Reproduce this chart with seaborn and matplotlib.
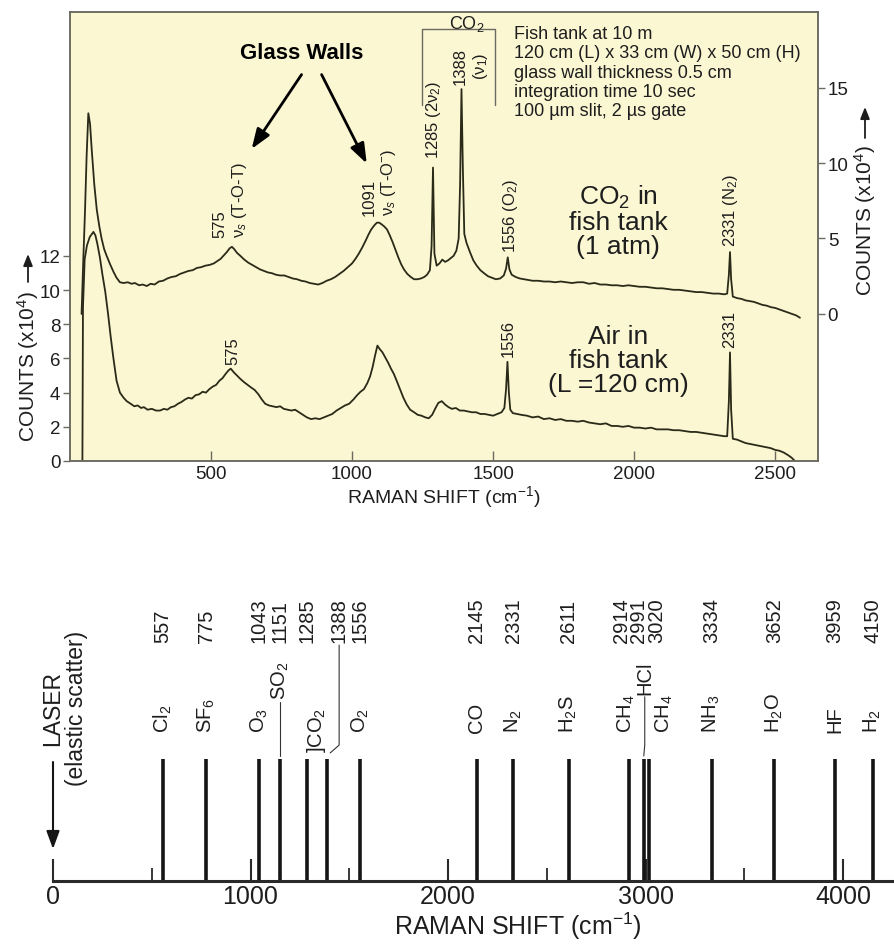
import itertools
import numpy as np
import pandas as pd
import matplotlib
matplotlib.use("Agg")
import matplotlib.pyplot as plt
import seaborn as sns

# ---------------- data ----------------
# Air in fish tank (left axis, counts x1e4)
air_shift = [44, 46, 52, 60, 70, 83, 90, 97, 106, 115, 125, 135, 144, 154, 165, 177, 190, 201, 215, 228,
             240, 252, 262, 275, 290, 305, 319, 333, 345, 358, 370, 383, 395, 408, 420, 432, 445, 458, 470, 482,
             494, 506, 518, 530, 541, 552, 562, 570, 580, 592, 604, 618, 630, 642, 655, 668, 680, 692, 705, 718,
             732, 745, 758, 772, 785, 798, 812, 826, 840, 855, 870, 885, 900, 915, 930, 945, 960, 975, 990, 1005,
             1018, 1030, 1042, 1054, 1064, 1073, 1082, 1090, 1098, 1108, 1118, 1128, 1138, 1148, 1158, 1170, 1182,
             1194, 1206, 1220, 1233, 1246, 1260, 1272, 1284, 1296, 1306, 1318, 1330, 1342, 1354, 1368, 1382, 1396,
             1410, 1425, 1440, 1455, 1470, 1485, 1500, 1515, 1530, 1540, 1546, 1551, 1556, 1561, 1570, 1585, 1600,
             1620, 1640, 1660, 1680, 1700, 1720, 1740, 1760, 1780, 1800, 1820, 1840, 1860, 1880, 1900, 1920, 1940,
             1960, 1980, 2000, 2020, 2040, 2060, 2080, 2100, 2120, 2140, 2160, 2180, 2200, 2220, 2240, 2260, 2280,
             2300, 2320, 2330, 2336, 2340, 2344, 2350, 2365, 2380, 2395, 2410, 2425, 2440, 2455, 2470, 2485, 2500,
             2515, 2530, 2545, 2558, 2570]
air_counts = [0.0, 9.0, 11.8, 12.6, 13.1, 13.4, 13.2, 12.7, 11.9, 10.9, 9.9, 8.6, 7.3, 6.0, 4.7, 4.0, 3.7, 3.5,
              3.35, 3.2, 3.25, 3.1, 3.15, 3.0, 3.05, 2.95, 2.95, 3.05, 3.0, 3.15, 3.2, 3.35, 3.45, 3.6, 3.7, 3.65,
              3.85, 3.9, 4.05, 4.0, 4.2, 4.35, 4.45, 4.7, 4.85, 5.1, 5.3, 5.4, 5.2, 5.0, 4.8, 4.6, 4.45, 4.3, 4.15,
              3.9, 3.6, 3.35, 3.25, 3.2, 3.15, 3.2, 3.05, 3.0, 2.95, 3.0, 2.85, 2.7, 2.55, 2.45, 2.5, 2.45, 2.55,
              2.65, 2.75, 2.95, 3.1, 3.25, 3.35, 3.6, 3.85, 4.05, 4.2, 4.55, 4.95, 5.5, 6.2, 6.75, 6.55, 6.35, 6.05,
              5.75, 5.4, 5.1, 4.7, 4.2, 3.7, 3.3, 3.0, 2.85, 2.7, 2.65, 2.55, 2.5, 2.7, 3.1, 3.4, 3.5, 3.3, 3.15,
              3.05, 3.1, 2.95, 2.95, 2.9, 2.85, 2.85, 2.75, 2.75, 2.7, 2.65, 2.75, 2.85, 3.1, 4.2, 5.8, 4.0, 3.0,
              2.8, 2.75, 2.7, 2.65, 2.55, 2.6, 2.45, 2.5, 2.4, 2.45, 2.35, 2.35, 2.3, 2.35, 2.25, 2.2, 2.15, 2.2,
              2.05, 2.05, 2.0, 2.05, 1.95, 1.95, 1.9, 1.95, 1.85, 1.85, 1.85, 1.8, 1.8, 1.75, 1.7, 1.7, 1.65, 1.6,
              1.55, 1.5, 1.45, 1.45, 3.5, 6.35, 3.0, 1.3, 1.25, 1.15, 1.05, 1.0, 0.95, 0.9, 0.85, 0.8, 0.75, 0.65,
              0.6, 0.5, 0.35, 0.2, 0.0]

# CO2 in fish tank (right axis, counts x1e4)
co2_shift = [41, 47, 53, 59, 65, 71, 77, 86, 95, 104, 112, 121, 130, 142, 154, 165, 177, 190, 205, 218, 230,
             245, 258, 272, 286, 300, 315, 330, 345, 360, 375, 390, 405, 420, 435, 450, 465, 480, 495, 510, 522,
             534, 546, 556, 566, 574, 582, 592, 604, 618, 632, 646, 660, 674, 688, 702, 716, 730, 745, 760, 775,
             790, 805, 820, 835, 850, 865, 880, 895, 910, 925, 940, 955, 970, 985, 1000, 1012, 1024, 1036, 1048,
             1058, 1068, 1078, 1088, 1096, 1104, 1114, 1124, 1134, 1144, 1154, 1164, 1174, 1184, 1196, 1208, 1220,
             1232, 1244, 1256, 1266, 1276, 1282, 1287, 1292, 1300, 1310, 1320, 1330, 1340, 1350, 1360, 1370, 1378,
             1383, 1388, 1393, 1398, 1406, 1418, 1430, 1442, 1455, 1468, 1482, 1496, 1510, 1525, 1538, 1546, 1552,
             1558, 1566, 1580, 1595, 1610, 1625, 1640, 1660, 1680, 1700, 1720, 1740, 1760, 1780, 1800, 1820, 1840,
             1860, 1880, 1900, 1920, 1940, 1960, 1980, 2000, 2020, 2040, 2060, 2080, 2100, 2120, 2140, 2160, 2180,
             2200, 2220, 2240, 2260, 2280, 2300, 2320, 2330, 2336, 2340, 2344, 2350, 2365, 2380, 2395, 2410, 2425,
             2440, 2455, 2470, 2485, 2500, 2515, 2530, 2545, 2560, 2575, 2588]
co2_counts = [0.0, 3.5, 6.7, 10.5, 13.3, 12.6, 10.9, 8.6, 6.9, 5.8, 5.0, 4.3, 3.85, 3.3, 2.8, 2.4, 2.1, 2.05,
              2.1, 2.0, 2.05, 1.9, 1.95, 1.85, 2.0, 1.95, 2.15, 2.2, 2.35, 2.45, 2.5, 2.65, 2.75, 2.85, 2.9, 3.05,
              3.1, 3.2, 3.25, 3.35, 3.5, 3.65, 3.9, 4.1, 4.35, 4.45, 4.3, 4.05, 3.85, 3.6, 3.4, 3.25, 3.1, 2.95,
              2.85, 2.75, 2.7, 2.6, 2.55, 2.55, 2.45, 2.35, 2.3, 2.2, 2.15, 2.05, 2.0, 1.95, 2.05, 2.2, 2.3, 2.45,
              2.65, 2.85, 3.1, 3.35, 3.65, 4.0, 4.4, 4.85, 5.25, 5.6, 5.85, 6.05, 6.05, 5.95, 5.8, 5.6, 5.2, 4.75,
              4.25, 3.75, 3.3, 2.95, 2.65, 2.45, 2.3, 2.3, 2.35, 2.45, 2.6, 2.9, 4.5, 9.7, 4.0, 3.2, 3.35, 3.6,
              3.45, 3.55, 3.7, 3.85, 4.2, 5.0, 8.5, 14.9, 9.5, 5.3, 4.7, 4.1, 3.55, 3.2, 2.9, 2.7, 2.5, 2.4, 2.3,
              2.35, 2.55, 3.0, 3.75, 2.95, 2.6, 2.45, 2.35, 2.3, 2.25, 2.2, 2.2, 2.15, 2.15, 2.1, 2.15, 2.1, 2.05,
              2.1, 2.1, 2.0, 2.05, 1.95, 1.95, 1.9, 1.9, 1.85, 1.9, 1.85, 1.8, 1.8, 1.75, 1.7, 1.7, 1.65, 1.6, 1.6,
              1.55, 1.5, 1.45, 1.45, 1.4, 1.35, 1.35, 1.3, 1.35, 2.6, 4.1, 2.3, 1.15, 1.05, 1.0, 0.9, 0.85, 0.8,
              0.7, 0.6, 0.55, 0.45, 0.4, 0.3, 0.2, 0.1, 0.0, -0.1, -0.25]

left_ticks = [0, 2, 4, 6, 8, 10, 12]
right_ticks = [0, 5, 10, 15]
top_xticks = [500, 1000, 1500, 2000, 2500]

# Reference Raman lines (bottom panel)
line_shift = [557, 775, 1043, 1151, 1285, 1388, 1556, 2145, 2331, 2611, 2914, 2991, 3020, 3334, 3652, 3959, 4150]
line_label = ["557", "775", "1043", "1151", "1285", "1388", "1556", "2145", "2331", "2611",
              "2914", "2991", "3020", "3334", "3652", "3959", "4150"]
line_gas = ["Cl$_2$", "SF$_6$", "O$_3$", "SO$_2$", "CO$_2$", "CO$_2$", "O$_2$", "CO", "N$_2$", "H$_2$S",
            "CH$_4$", "HCl", "CH$_4$", "NH$_3$", "H$_2$O", "HF", "H$_2$"]
bottom_major = [0, 1000, 2000, 3000, 4000]
bottom_minor = [500, 1500, 2500, 3500]

# ---------------- style ----------------
sns.set_style("white")
plt.rcParams["font.family"] = ["Liberation Sans", "DejaVu Sans"]
plt.rcParams["mathtext.fontset"] = "custom"
plt.rcParams["mathtext.rm"] = "Liberation Sans"
plt.rcParams["mathtext.it"] = "Liberation Sans:italic"
plt.rcParams["mathtext.bf"] = "Liberation Sans:bold"
plt.rcParams["mathtext.sf"] = "Liberation Sans"

INK = "#1e1e1e"
TRACE = "#2a2a18"
PANEL = "#FBF7D3"
FRAME = "#6a6a60"

W, H = 894, 945
fig = plt.figure(figsize=(W / 100, H / 100), dpi=100)
fig.patch.set_facecolor("white")


def rect(l, t, r, b):
    return [l / W, 1 - b / H, (r - l) / W, (b - t) / H]


# ---------------- top panel ----------------
ax = fig.add_axes(rect(70, 13, 818, 462))
ax.set_facecolor(PANEL)
XMAX_TOP = 2652
YMAX_L = 26.26
ZERO_R = 8.6      # left-axis value where right axis is 0
SCALE_R = 1.133   # right units per left unit
ax.set_xlim(0, XMAX_TOP)
ax.set_ylim(0, YMAX_L)

sns.lineplot(x=air_shift, y=air_counts, ax=ax, color=TRACE, lw=1.3, estimator=None, sort=False)

ax2 = ax.twinx()
ax2.set_ylim((0 - ZERO_R) * SCALE_R, (YMAX_L - ZERO_R) * SCALE_R)
sns.lineplot(x=co2_shift, y=co2_counts, ax=ax2, color=TRACE, lw=1.3, estimator=None, sort=False)
ax2.set_xlim(0, XMAX_TOP)

for a in (ax, ax2):
    for s in a.spines.values():
        s.set_color(FRAME)
        s.set_linewidth(1.1)
    a.set_xlabel("")
    a.set_ylabel("")

ax.set_xticks(top_xticks)
ax.set_yticks(left_ticks)
ax.tick_params(axis="x", bottom=True, direction="in", length=7, width=1, color=FRAME,
               labelsize=13.5, pad=3, labelcolor=INK)
ax.tick_params(axis="y", left=True, direction="out", length=5, width=1, color=FRAME,
               labelsize=13.5, pad=2, labelcolor=INK)
ax2.set_yticks(right_ticks)
ax2.tick_params(axis="y", right=True, direction="out", length=5, width=1, color=FRAME,
                labelsize=13.5, pad=2, labelcolor=INK)
ax.set_xlabel("RAMAN SHIFT (cm$^{-1}$)", fontsize=14, color=INK, labelpad=1)

tkw = dict(rotation=90, color=INK, fontsize=12, ha="center", va="bottom")
ax.text(570, 13.1, "575\nν$_s$ (T-O-T)", multialignment="left", **tkw)
ax.text(1099, 14.4, "1091\nν$_s$ (T-O$^{-}$)", multialignment="left", **tkw)
ax.text(1288, 17.7, "1285 (2ν$_2$)", **tkw)
ax.text(1424, 22.05, "1388\n(ν$_1$)", multialignment="center", **tkw)
ax.text(1560, 12.2, "1556 (O$_2$)", **tkw)
ax.text(2340, 12.6, "2331 (N$_2$)", **tkw)
ax.text(576, 5.67, "575", **tkw)
ax.text(1554, 6.16, "1556", **tkw)
ax.text(2340, 6.65, "2331", **tkw)

# CO2 bracket
ax.plot([1247, 1247, 1507, 1507], [20.8, 25.26, 25.26, 20.8], color=FRAME, lw=1.0)
ax.text(1406, 25.62, "CO$_2$", color=INK, fontsize=13, ha="center", va="center")

ax.text(1575, 25.5,
        "Fish tank at 10 m\n120 cm (L) x 33 cm (W) x 50 cm (H)\nglass wall thickness 0.5 cm\n"
        "integration time 10 sec\n100 µm slit, 2 µs gate",
        color=INK, fontsize=13, ha="left", va="top", linespacing=1.18)

ax.text(1944, 14.05, "CO$_2$ in\nfish tank\n(1 atm)", color=INK, fontsize=19,
        ha="center", va="center", multialignment="center", linespacing=1.0)
ax.text(1944, 5.9, "Air in\nfish tank\n(L =120 cm)", color=INK, fontsize=19,
        ha="center", va="center", multialignment="center", linespacing=1.0)

ax.text(821, 23.9, "Glass Walls", color="black", fontsize=16, fontweight="bold",
        ha="center", va="center")
akw = dict(arrowstyle="-|>,head_length=0.6,head_width=0.22", lw=2, color="black",
           mutation_scale=20, shrinkA=0, shrinkB=0)
ax.annotate("", xy=(644, 18.25), xytext=(821, 22.6), arrowprops=akw)
ax.annotate("", xy=(1052, 17.4), xytext=(892, 22.6), arrowprops=akw)

# axis titles with arrows
fig.text(28 / W, 1 - 366 / H, "COUNTS (x10$^4$)", rotation=90, ha="center", va="center",
         fontsize=15, color=INK)
fig.text(865 / W, 1 - 220 / H, "COUNTS (x10$^4$)", rotation=90, ha="center", va="center",
         fontsize=15, color=INK)
lkw = dict(arrowstyle="-|>,head_length=0.5,head_width=0.2", lw=1.3, color=INK,
           mutation_scale=14, shrinkA=0, shrinkB=0)
ax.annotate("", xy=(28 / W, 1 - 255 / H), xytext=(28 / W, 1 - 283 / H),
            xycoords="figure fraction", textcoords="figure fraction", arrowprops=lkw)
ax.annotate("", xy=(865 / W, 1 - 108 / H), xytext=(865 / W, 1 - 139 / H),
            xycoords="figure fraction", textcoords="figure fraction", arrowprops=lkw)

# ---------------- bottom panel ----------------
BL, BR, BT, BB = 53, 894, 580, 882
bx = fig.add_axes(rect(BL, BT, BR, BB))
bx.set_facecolor("none")
XMAX_BOT = 4258
PX = (BR - BL) / XMAX_BOT  # pixels per cm-1
bx.set_xlim(0, XMAX_BOT)
bx.set_ylim(0, 1)
for side in ("left", "top", "right"):
    bx.spines[side].set_visible(False)
bx.spines["bottom"].set_color("#2a2a2a")
bx.spines["bottom"].set_linewidth(2.2)
bx.set_yticks([])
bx.set_xticks(bottom_major)
bx.set_xticks(bottom_minor, minor=True)
bx.tick_params(axis="x", which="major", bottom=True, direction="in", length=15.5, width=1.5,
               color="#2a2a2a", labelsize=18, pad=2, labelcolor=INK)
bx.tick_params(axis="x", which="minor", bottom=True, direction="in", length=9.5, width=1.3,
               color="#2a2a2a")

STICK_TOP = 0.404
bx.vlines(line_shift, 0, STICK_TOP, color="#151515", lw=2.6)

NUM_Y, GAS_Y = 0.791, 0.493
num_off_px = {"1388": 12, "2914": -7.5, "2991": -5.7, "3020": 7.5}
for v, lab in zip(line_shift, line_label):
    bx.text(v + num_off_px.get(lab, 0) / PX, NUM_Y, lab, rotation=90, ha="center", va="bottom",
            fontsize=14.5, color=INK)

# leader from the shifted 1388 label
x88 = line_shift[line_label.index("1388")]
xl = x88 + 12 / PX
bx.plot([xl, xl, x88 + 3 / PX], [NUM_Y - 0.01, 0.45, STICK_TOP + 0.02], color="#333333", lw=0.8)

# gas labels (consecutive identical gases share one label)
gas_off_px = {"HCl": 1, "CH$_4$@3020": 15, "CH$_4$@2914": -2.5}
gas_y = {"SO$_2$": 0.603, "HCl": 0.62, "CO$_2$": 0.427}
for gas, grp in itertools.groupby(zip(line_shift, line_gas), key=lambda t: t[1]):
    xs = [g[0] for g in grp]
    xc = float(np.mean(xs))
    key = f"{gas}@{xs[0]}" if gas == "CH$_4$" else gas
    xc += gas_off_px.get(key, 0) / PX
    txt = "]" + gas if len(xs) > 1 else gas
    bx.text(xc, gas_y.get(gas, GAS_Y), txt, rotation=90, ha="center", va="bottom",
            fontsize=14.5, color=INK)
    if gas in ("SO$_2$", "HCl"):
        bx.plot([xc, xc, xs[0]], [gas_y[gas] - 0.01, 0.45, STICK_TOP + 0.01], color="#333333", lw=0.8)

# laser marker
bx.text(61, 0.576, "LASER\n(elastic scatter)", rotation=90, ha="center", va="center",
        multialignment="center", fontsize=16.5, color=INK, linespacing=1.05)
bx.annotate("", xy=(0, 0.106), xytext=(0, 0.394),
            arrowprops=dict(arrowstyle="-|>,head_length=0.6,head_width=0.22", lw=1.5, color="#151515",
                            mutation_scale=18, shrinkA=0, shrinkB=0))

fig.text(518 / W, 1 - 926 / H, "RAMAN SHIFT (cm$^{-1}$)", ha="center", va="center",
         fontsize=18, color=INK)

fig.savefig("out.png", dpi=100, facecolor="white")
